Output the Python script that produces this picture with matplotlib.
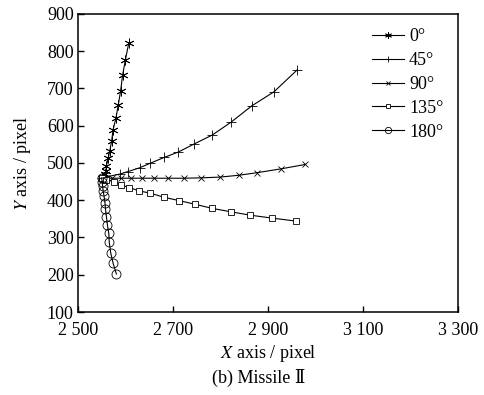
import matplotlib
matplotlib.use("Agg")
import matplotlib.pyplot as plt
from matplotlib.ticker import FuncFormatter

# trajectories (X pixel, Y pixel)
x_0 = [2550, 2552, 2557, 2559, 2560, 2564, 2567, 2571, 2574, 2580, 2585, 2590, 2594, 2600, 2607]
y_0 = [460, 459, 470, 479, 493, 513, 532, 559, 589, 620, 656, 694, 735, 777, 821]

x_45 = [2550, 2588, 2606, 2630, 2652, 2682, 2711, 2745, 2783, 2822, 2866, 2913, 2962]
y_45 = [460, 470, 477, 487, 499, 515, 529, 551, 575, 609, 653, 691, 750]

x_90 = [2550, 2572, 2591, 2612, 2635, 2661, 2690, 2723, 2760, 2799, 2839, 2878, 2927, 2979]
y_90 = [460, 459, 459, 459, 459, 459, 459, 459, 460, 462, 467, 474, 484, 496]

x_135 = [2550, 2560, 2576, 2591, 2608, 2629, 2652, 2681, 2713, 2747, 2783, 2822, 2862, 2909, 2959]
y_135 = [460, 455, 450, 441, 434, 425, 419, 408, 399, 389, 378, 369, 360, 352, 344]

x_180 = [2550, 2551, 2552, 2553, 2555, 2557, 2558, 2560, 2562, 2565, 2566, 2569, 2574, 2581]
y_180 = [460, 449, 438, 426, 411, 393, 376, 356, 334, 311, 287, 259, 231, 202]

labels = ["0°", "45°", "90°", "135°", "180°"]
xticks = [2500, 2700, 2900, 3100, 3300]
yticks = [100, 200, 300, 400, 500, 600, 700, 800, 900]

plt.rcParams['font.family'] = ['Liberation Serif', 'DejaVu Serif']
plt.rcParams['mathtext.fontset'] = 'stix'

fig = plt.figure(figsize=(4.84, 3.95), dpi=100)
ax = fig.add_axes([0.161, 0.210, 0.785, 0.755])

series = [
    (x_0, y_0, dict(marker=(6, 2, 0), ms=7)),
    (x_45, y_45, dict(marker='+', ms=7)),
    (x_90, y_90, dict(marker='x', ms=4.5)),
    (x_135, y_135, dict(marker='s', ms=5, mfc='white')),
    (x_180, y_180, dict(marker='o', ms=6.5, mfc='none')),
]
for (xs, ys, style), lab in zip(series, labels):
    ax.plot(xs, ys, color='black', lw=0.8, mec='black', mew=0.6,
            label=lab, **style)

ax.set_xlim(2500, 3300)
ax.set_ylim(100, 900)
ax.set_xticks(xticks)
ax.set_yticks(yticks)
ax.xaxis.set_major_formatter(FuncFormatter(lambda v, p: f"{int(v):,}".replace(",", " ")))
ax.tick_params(direction='in', length=4, width=1, labelsize=13, pad=3)
ax.tick_params(axis='x', pad=7)
for s in ax.spines.values():
    s.set_linewidth(1.1)

ax.set_xlabel("$X$ axis / pixel", fontsize=13, labelpad=3)
ax.set_ylabel("$Y$ axis / pixel", fontsize=13, labelpad=10)
fig.text(0.535, 0.043, "(b) Missile Ⅱ", ha='center', va='center', fontsize=13)

ax.legend(loc='upper left', bbox_to_anchor=(0.774, 0.952), frameon=False,
          fontsize=13, handlelength=1.75, handletextpad=0.3, labelspacing=0.38,
          borderaxespad=0, borderpad=0, markerscale=0.7)

plt.savefig("out.png", dpi=100)
